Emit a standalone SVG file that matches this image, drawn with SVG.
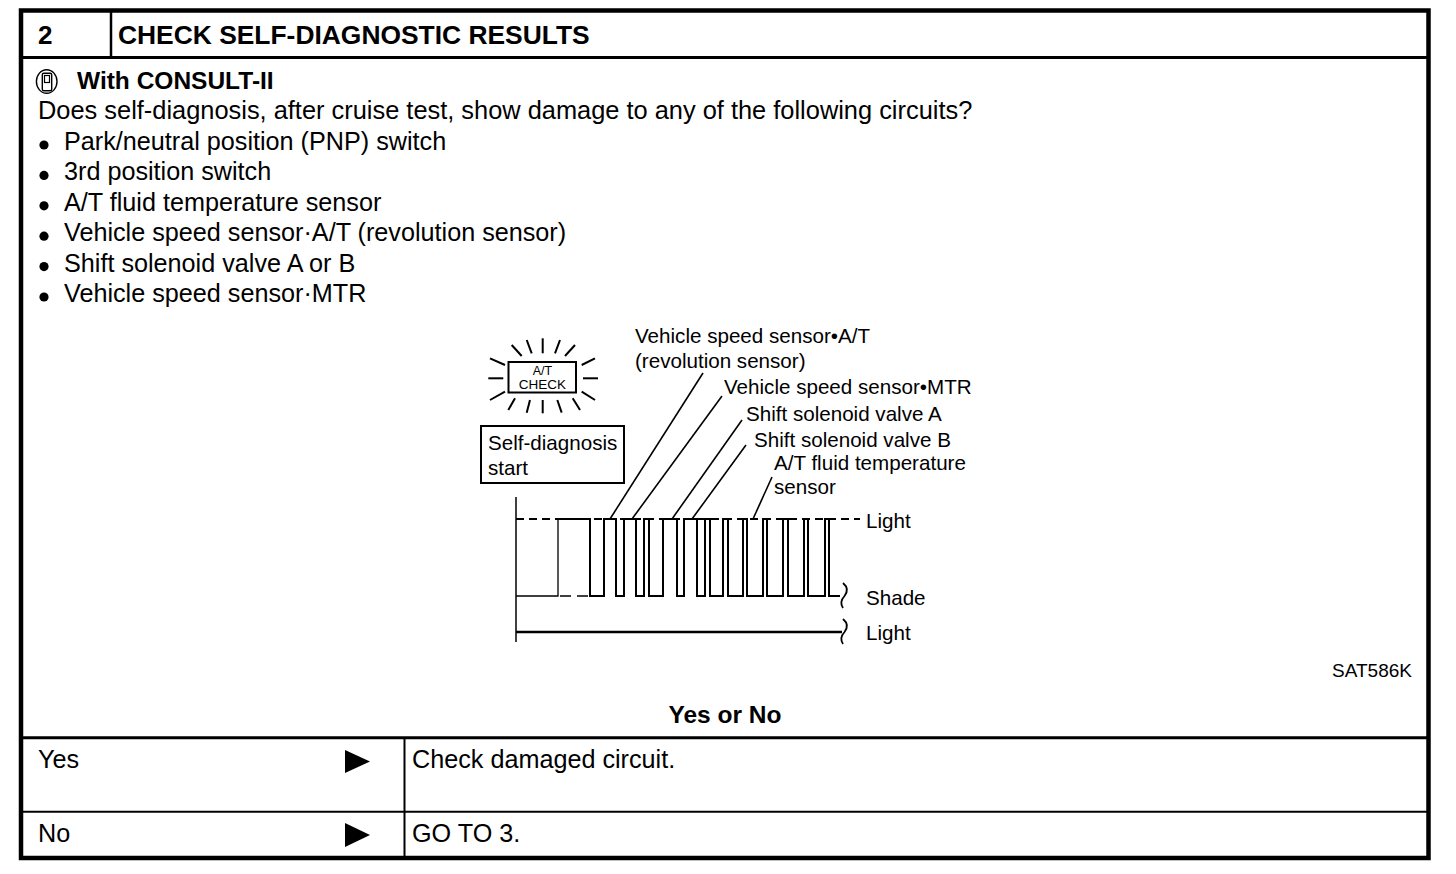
<svg xmlns="http://www.w3.org/2000/svg" width="1456" height="874" viewBox="0 0 1456 874">
<style>
text{font-family:"Liberation Sans",Arial,sans-serif;fill:#000}
.b{font-weight:bold}
.t25{font-size:25.2px}
.t20{font-size:20.6px}
.ln{stroke:#000;fill:none}
</style>
<rect width="1456" height="874" fill="#fff"/>
<g id="table">
<rect x="21" y="10.5" width="1407.5" height="847.5" class="ln" stroke-width="4.5"/>
<line x1="21" y1="57.5" x2="1428" y2="57.5" class="ln" stroke-width="3"/>
<line x1="111" y1="11" x2="111" y2="57" class="ln" stroke-width="2.5"/>
<line x1="21" y1="737.8" x2="1428" y2="737.8" class="ln" stroke-width="3"/>
<line x1="21" y1="811.8" x2="1428" y2="811.8" class="ln" stroke-width="2"/>
<line x1="404.5" y1="738" x2="404.5" y2="857" class="ln" stroke-width="2"/>
</g>
<g id="header">
<text x="38" y="44" class="b" font-size="26">2</text>
<text x="118" y="44" class="b" font-size="26.4">CHECK SELF-DIAGNOSTIC RESULTS</text>
</g>
<g id="consult">
<ellipse cx="46.7" cy="81.5" rx="10.3" ry="11.8" class="ln" stroke-width="1.4"/>
<rect x="42.3" y="73.2" width="9.4" height="17.5" rx="1.5" class="ln" stroke-width="1.4"/>
<rect x="44.5" y="75.5" width="5" height="7" class="ln" stroke-width="1.2"/>
<text x="77" y="89" class="b" font-size="24.5">With CONSULT-II</text>
</g>
<g id="question">
<text x="38" y="119" font-size="25.4">Does self-diagnosis, after cruise test, show damage to any of the following circuits?</text>
</g>
<g id="bullets">
<circle cx="44" cy="145" r="4.6"/>
<circle cx="44" cy="175.4" r="4.6"/>
<circle cx="44" cy="205.8" r="4.6"/>
<circle cx="44" cy="236.2" r="4.6"/>
<circle cx="44" cy="266.6" r="4.6"/>
<circle cx="44" cy="297" r="4.6"/>
<text x="64" y="150" class="t25">Park/neutral position (PNP) switch</text>
<text x="64" y="180.4" class="t25">3rd position switch</text>
<text x="64" y="210.8" class="t25">A/T fluid temperature sensor</text>
<text x="64" y="241.2" class="t25">Vehicle speed sensor·A/T (revolution sensor)</text>
<text x="64" y="271.6" class="t25">Shift solenoid valve A or B</text>
<text x="64" y="302" class="t25">Vehicle speed sensor·MTR</text>
</g>
<g id="lamp">
<rect x="508.5" y="362" width="67.5" height="30.5" class="ln" stroke-width="2"/>
<text x="542.5" y="374.5" font-size="12.5" text-anchor="middle">A/T</text>
<text x="542.5" y="388.5" font-size="13.5" text-anchor="middle">CHECK</text>
<g class="ln" stroke-width="2">
<line x1="511.7" y1="345" x2="521.7" y2="356"/>
<line x1="526.7" y1="340" x2="531.7" y2="353.3"/>
<line x1="542.7" y1="338.3" x2="542.7" y2="353.3"/>
<line x1="560" y1="340" x2="555" y2="353.3"/>
<line x1="575" y1="345" x2="565" y2="356"/>
<line x1="490" y1="358.3" x2="505" y2="365"/>
<line x1="488.3" y1="378.3" x2="503.3" y2="378.3"/>
<line x1="490" y1="400" x2="505" y2="391.7"/>
<line x1="581.7" y1="365" x2="595" y2="358.3"/>
<line x1="583" y1="378.3" x2="598" y2="378.3"/>
<line x1="581.7" y1="391.7" x2="595" y2="400"/>
<line x1="515" y1="398.3" x2="508.3" y2="410"/>
<line x1="530" y1="400" x2="526.7" y2="412.7"/>
<line x1="542.7" y1="400" x2="542.7" y2="413.3"/>
<line x1="557.3" y1="400" x2="561.7" y2="412.7"/>
<line x1="572.7" y1="398.3" x2="580" y2="410"/>
</g>
</g>
<g id="selfdiag">
<rect x="481" y="426" width="143" height="57" class="ln" stroke-width="2"/>
<text x="488" y="450" class="t20">Self-diagnosis</text>
<text x="488" y="475" class="t20">start</text>
</g>
<g id="labels">
<text x="635" y="343" class="t20">Vehicle speed sensor•A/T</text>
<text x="635" y="368" class="t20">(revolution sensor)</text>
<text x="724" y="394" class="t20">Vehicle speed sensor•MTR</text>
<text x="746" y="421" class="t20">Shift solenoid valve A</text>
<text x="754" y="447" class="t20">Shift solenoid valve B</text>
<text x="774" y="470" class="t20">A/T fluid temperature</text>
<text x="774" y="494" class="t20">sensor</text>
<text x="866" y="528" class="t20">Light</text>
<text x="866" y="605" class="t20">Shade</text>
<text x="866" y="640" class="t20">Light</text>
</g>
<g id="connectors" class="ln" stroke-width="1.6">
<line x1="703" y1="373" x2="610" y2="519"/>
<line x1="722" y1="396" x2="632" y2="519"/>
<line x1="742" y1="420" x2="672" y2="519"/>
<line x1="746" y1="445" x2="692" y2="519"/>
<line x1="772" y1="477" x2="753" y2="519"/>
</g>
<g id="waveform" class="ln">
<line x1="516" y1="497" x2="516" y2="642" stroke-width="1.5"/>
<line x1="516" y1="519" x2="860" y2="519" stroke-width="2" stroke-dasharray="8 5"/>
<line x1="560" y1="596" x2="590" y2="596" stroke-width="1.5" stroke-dasharray="11 6"/>
<path d="M516,596 H558 V519" stroke-width="1.3"/>
<path d="M558,519 H590 V596 H604 V519 H616 V596 H624 V519 H636 V596 H644 V519 H649 V596 H663 V519 H677 V596 H684 V519 H697 V596 H705 V519 H710 V596 H723 V519 H728 V596 H743 V519 H747 V596 H763 V519 H767 V596 H783 V519 H788 V596 H804 V519 H808 V596 H825 V519 H829 V596 H840" stroke-width="2" stroke-linejoin="miter"/>
<line x1="516" y1="632" x2="842" y2="632" stroke-width="2.5"/>
<path d="M843,583 Q850,589 844.5,596 Q839,602 843,608" stroke-width="1.8"/>
<path d="M843,619 Q850,625 844.5,632 Q839,638 843,644" stroke-width="1.8"/>
</g>
<g id="code">
<text x="1412" y="677" font-size="19" text-anchor="end">SAT586K</text>
</g>
<g id="answers">
<text x="725" y="723" class="b" font-size="24.5" text-anchor="middle">Yes or No</text>
<text x="38" y="768" class="t25">Yes</text>
<path d="M345,750 L370,761.5 L345,773 Z"/>
<text x="412" y="768" class="t25">Check damaged circuit.</text>
<text x="38" y="842" class="t25">No</text>
<path d="M345,823 L370,835 L345,847 Z"/>
<text x="412" y="842" class="t25">GO TO 3.</text>
</g>
</svg>
